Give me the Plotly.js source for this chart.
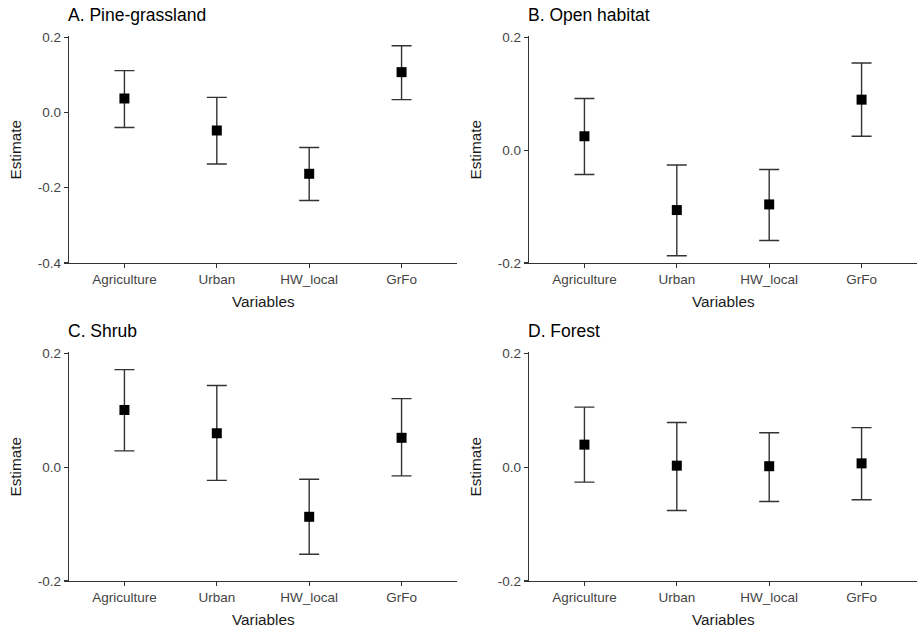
<!DOCTYPE html>
<html><head><meta charset="utf-8">
<script src="https://cdn.plot.ly/plotly-3.0.1.min.js"></script>
<style>body{margin:0;background:#fff}#c{width:921px;height:629px}</style>
</head><body><div id="c"></div>
<script>
const categories = ["Agriculture", "Urban", "HW_local", "GrFo"];
const panelTitles = ["A. Pine-grassland", "B. Open habitat", "C. Shrub", "D. Forest"];
// estimates, upper CI, lower CI
const pineEst = [0.037, -0.048, -0.163, 0.107];
const pineUp  = [0.111, 0.040, -0.093, 0.177];
const pineLo  = [-0.040, -0.137, -0.234, 0.034];
const openEst = [0.025, -0.106, -0.096, 0.090];
const openUp  = [0.092, -0.026, -0.034, 0.155];
const openLo  = [-0.043, -0.187, -0.160, 0.025];
const shrubEst = [0.101, 0.060, -0.087, 0.052];
const shrubUp  = [0.172, 0.144, -0.021, 0.121];
const shrubLo  = [0.029, -0.023, -0.153, -0.015];
const forestEst = [0.040, 0.003, 0.002, 0.007];
const forestUp  = [0.106, 0.079, 0.061, 0.070];
const forestLo  = [-0.026, -0.076, -0.060, -0.057];
const yTicksA = [0.2, 0.0, -0.2, -0.4];
const yTickTextA = ["0.2", "0.0", "-0.2", "-0.4"];
const yTicks = [0.2, 0.0, -0.2];
const yTickText = ["0.2", "0.0", "-0.2"];

const W = 921, H = 629;
const panels = [
  {est: pineEst, up: pineUp, lo: pineLo, x0: 69, x1: 457, y0: 36, y1: 263, range: [-0.4, 0.203], tv: yTicksA, tt: yTickTextA},
  {est: openEst, up: openUp, lo: openLo, x0: 529, x1: 917, y0: 36, y1: 263, range: [-0.2, 0.203], tv: yTicks, tt: yTickText},
  {est: shrubEst, up: shrubUp, lo: shrubLo, x0: 69, x1: 457, y0: 352, y1: 581, range: [-0.2, 0.203], tv: yTicks, tt: yTickText},
  {est: forestEst, up: forestUp, lo: forestLo, x0: 529, x1: 917, y0: 352, y1: 581, range: [-0.2, 0.203], tv: yTicks, tt: yTickText}
];
const data = [];
const layout = {
  width: W, height: H, margin: {l: 0, r: 0, t: 0, b: 0},
  paper_bgcolor: "#fff", plot_bgcolor: "#fff", showlegend: false,
  font: {family: "Liberation Sans, Arial, sans-serif", color: "#4d4d4d"},
  annotations: []
};
panels.forEach((p, i) => {
  const n = i === 0 ? "" : String(i + 1);
  data.push({
    type: "scatter", mode: "markers",
    x: categories, y: p.est,
    xaxis: "x" + n, yaxis: "y" + n,
    marker: {symbol: "square", size: 10, color: "#000"},
    error_y: {type: "data", symmetric: false,
      array: p.up.map((u, k) => u - p.est[k]),
      arrayminus: p.lo.map((l, k) => p.est[k] - l),
      color: "#333", thickness: 1.4, width: 10},
    hoverinfo: "skip"
  });
  const xd = [p.x0 / W, p.x1 / W];
  const yd = [1 - p.y1 / H, 1 - p.y0 / H];
  layout["xaxis" + n] = {
    domain: xd, anchor: "y" + n, type: "category", range: [-0.6, 3.6],
    showline: true, linecolor: "#333", linewidth: 1.2, showgrid: false, zeroline: false,
    ticks: "outside", ticklen: 4, tickcolor: "#333", tickwidth: 1.2,
    tickfont: {size: 13.5, color: "#444"}, fixedrange: true
  };
  layout["yaxis" + n] = {
    domain: yd, anchor: "x" + n, range: p.range,
    tickvals: p.tv, ticktext: p.tt,
    showline: true, linecolor: "#333", linewidth: 1.2, showgrid: false, zeroline: false,
    ticks: "outside", ticklen: 4, tickcolor: "#333", tickwidth: 1.2,
    tickfont: {size: 13.5, color: "#444"}, fixedrange: true
  };
  layout.annotations.push({
    text: panelTitles[i], xref: "paper", yref: "paper",
    x: (p.x0 - 3) / W, y: 1 - (p.y0 - 9) / H, xanchor: "left", yanchor: "bottom",
    showarrow: false, font: {size: 17.5, color: "#000"}
  });
  layout.annotations.push({
    text: "Variables", xref: "paper", yref: "paper",
    x: ((p.x0 + p.x1) / 2) / W, y: 1 - (p.y1 + 38) / H, xanchor: "center", yanchor: "middle",
    showarrow: false, font: {size: 15.3, color: "#1a1a1a"}
  });
  layout.annotations.push({
    text: "Estimate", xref: "paper", yref: "paper", textangle: -90,
    x: (p.x0 - 54) / W, y: 1 - ((p.y0 + p.y1) / 2) / H, xanchor: "center", yanchor: "middle",
    showarrow: false, font: {size: 15.3, color: "#1a1a1a"}
  });
});
Plotly.newPlot("c", data, layout, {staticPlot: true});
</script></body></html>
